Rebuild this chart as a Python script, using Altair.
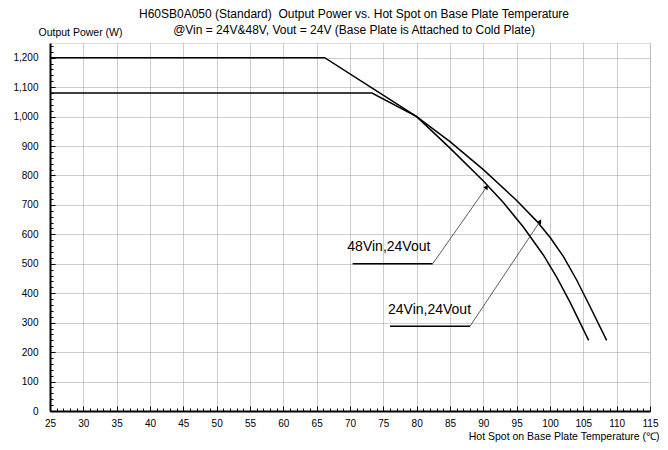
import math
import altair as alt
import pandas as pd

# ---------------- data ----------------
t48 = [25, 66.2, 80, 85, 90, 93, 96, 99, 101, 103, 105.8]
p48 = [1200, 1200, 1000, 893, 781, 708, 625, 530, 455, 370, 240]

t24 = [25, 73.3, 80, 85, 90, 95, 98, 100, 102, 104, 106, 108.5]
p24 = [1080, 1080, 1000, 915, 820, 715, 645, 590, 525, 445, 355, 240]

ann_label = ["48Vin,24Vout", "24Vin,24Vout"]
ann_text_x = [69.6, 75.7]
ann_text_y = [557, 344]
ann_line_x1 = [70.4, 76.0]
ann_line_x2 = [82.4, 88.0]
ann_line_y = [500, 288]
ann_tip_x = [90.5, 98.5]
ann_tip_y = [761, 644]

x_major = list(range(25, 116, 5))
x_minor = list(range(25, 116, 1))
y_major = list(range(0, 1201, 100))
y_minor = list(range(0, 1241, 20))

title_lines = [
    "H60SB0A050 (Standard)\u00a0\u00a0Output Power vs. Hot Spot on Base Plate Temperature",
    "@Vin = 24V&48V, Vout = 24V (Base Plate is Attached to Cold Plate)",
]
y_title = "Output Power (W)"
x_title = "Hot Spot on Base Plate Temperature (\u2103)"

# ---------------- tables ----------------
curves = pd.DataFrame(
    {
        "T": t48 + t24,
        "P": p48 + p24,
        "series": ["48Vin"] * len(t48) + ["24Vin"] * len(t24),
        "idx": list(range(len(t48))) + list(range(len(t24))),
    }
)

W, H = 600, 368
xs = alt.Scale(domain=[25, 115], nice=False, zero=False)
ys = alt.Scale(domain=[0, 1250], nice=False, zero=False)

px_x = W / 90.0
px_y = H / 1250.0
angles = []
for i in range(len(ann_label)):
    dx = (ann_tip_x[i] - ann_line_x2[i]) * px_x
    dy = (ann_tip_y[i] - ann_line_y[i]) * px_y
    angles.append(math.degrees(math.atan2(dx, dy)))

ann = pd.DataFrame(
    {
        "label": ann_label,
        "tx": ann_text_x,
        "ty": ann_text_y,
        "x1": ann_line_x1,
        "x2": ann_line_x2,
        "ly": ann_line_y,
        "tipx": ann_tip_x,
        "tipy": ann_tip_y,
        "angle": angles,
    }
)

FONT = "Liberation Sans"

main_x_axis = alt.Axis(
    values=x_major,
    ticks=False,
    grid=True,
    gridColor="#9a9a9a",
    gridDash=[1, 1],
    gridWidth=1,
    domainColor="black",
    domainWidth=2,
    labelFontSize=10,
    labelFont=FONT,
    labelColor="black",
    labelPadding=7,
    labelFlush=False,
    labelOverlap=False,
    title=x_title,
    titleFont=FONT,
    titleFontSize=10.5,
    titleFontWeight="normal",
    titleColor="black",
    titleAngle=0,
    titleAlign="right",
    titleBaseline="middle",
    titleX=609,
    titleY=25,
    orient="bottom",
)
main_y_axis = alt.Axis(
    values=y_major,
    format=",.0f",
    ticks=False,
    grid=True,
    gridColor="#9a9a9a",
    gridDash=[1, 1],
    gridWidth=1,
    domainColor="black",
    domainWidth=2,
    labelFontSize=10,
    labelFont=FONT,
    labelColor="black",
    labelPadding=12,
    labelFlush=False,
    labelOverlap=False,
    title=y_title,
    titleFont=FONT,
    titleFontSize=10.5,
    titleFontWeight="normal",
    titleColor="black",
    titleAngle=0,
    titleAlign="center",
    titleBaseline="middle",
    titleX=30,
    titleY=-11,
    orient="left",
)

lines = (
    alt.Chart(curves)
    .mark_line(color="black", strokeWidth=1.5)
    .encode(
        x=alt.X("T:Q", scale=xs, axis=main_x_axis),
        y=alt.Y("P:Q", scale=ys, axis=main_y_axis),
        detail="series:N",
        order="idx:Q",
    )
)


def tick_layer(xv, yv, size):
    return (
        alt.Chart(curves)
        .mark_point(opacity=0)
        .encode(
            x=alt.X(
                "T:Q",
                scale=xs,
                axis=alt.Axis(
                    values=xv, offset=-size, tickSize=size, tickColor="black",
                    tickWidth=1, labels=False, domain=False, grid=False,
                    title=None, orient="bottom",
                ),
            ),
            y=alt.Y(
                "P:Q",
                scale=ys,
                axis=alt.Axis(
                    values=yv, offset=-size, tickSize=size, tickColor="black",
                    tickWidth=1, labels=False, domain=False, grid=False,
                    title=None, orient="left",
                ),
            ),
        )
    )


minor = tick_layer(x_minor, y_minor, 3)
major = tick_layer(x_major, y_major, 5)

underline = (
    alt.Chart(ann)
    .mark_rule(color="black", strokeWidth=1.5)
    .encode(
        x=alt.X("x1:Q", scale=xs, axis=None),
        x2="x2:Q",
        y=alt.Y("ly:Q", scale=ys, axis=None),
    )
)
arrow_line = (
    alt.Chart(ann)
    .mark_rule(color="#333333", strokeWidth=0.8)
    .encode(
        x=alt.X("x2:Q", scale=xs, axis=None),
        x2="tipx:Q",
        y=alt.Y("ly:Q", scale=ys, axis=None),
        y2="tipy:Q",
    )
)
arrow_head = (
    alt.Chart(ann)
    .mark_point(shape="triangle-up", filled=True, color="black", size=28, opacity=1)
    .encode(
        x=alt.X("tipx:Q", scale=xs, axis=None),
        y=alt.Y("tipy:Q", scale=ys, axis=None),
        angle=alt.Angle("angle:Q", scale=None),
    )
)
labels = (
    alt.Chart(ann)
    .mark_text(align="left", baseline="middle", fontSize=14, font=FONT, color="black")
    .encode(
        x=alt.X("tx:Q", scale=xs, axis=None),
        y=alt.Y("ty:Q", scale=ys, axis=None),
        text="label:N",
    )
)

chart = (
    alt.layer(lines, minor, major, underline, arrow_line, arrow_head, labels)
    .resolve_axis(x="independent", y="independent")
    .properties(
        width=W,
        height=H,
        autosize=alt.AutoSizeParams(type="none"),
        padding={"left": 42, "top": 35, "right": 10, "bottom": 31},
        title=alt.TitleParams(
            text=title_lines,
            anchor="middle",
            frame="group",
            font=FONT,
            fontSize=12,
            fontWeight="normal",
            color="black",
            lineHeight=16,
            offset=-10,
            dx=4,
        ),
    )
    .configure_view(stroke="#999999", strokeWidth=2)
    .configure(background="white")
)

chart.save("out.html", embed_options={"renderer": "svg", "actions": False})
